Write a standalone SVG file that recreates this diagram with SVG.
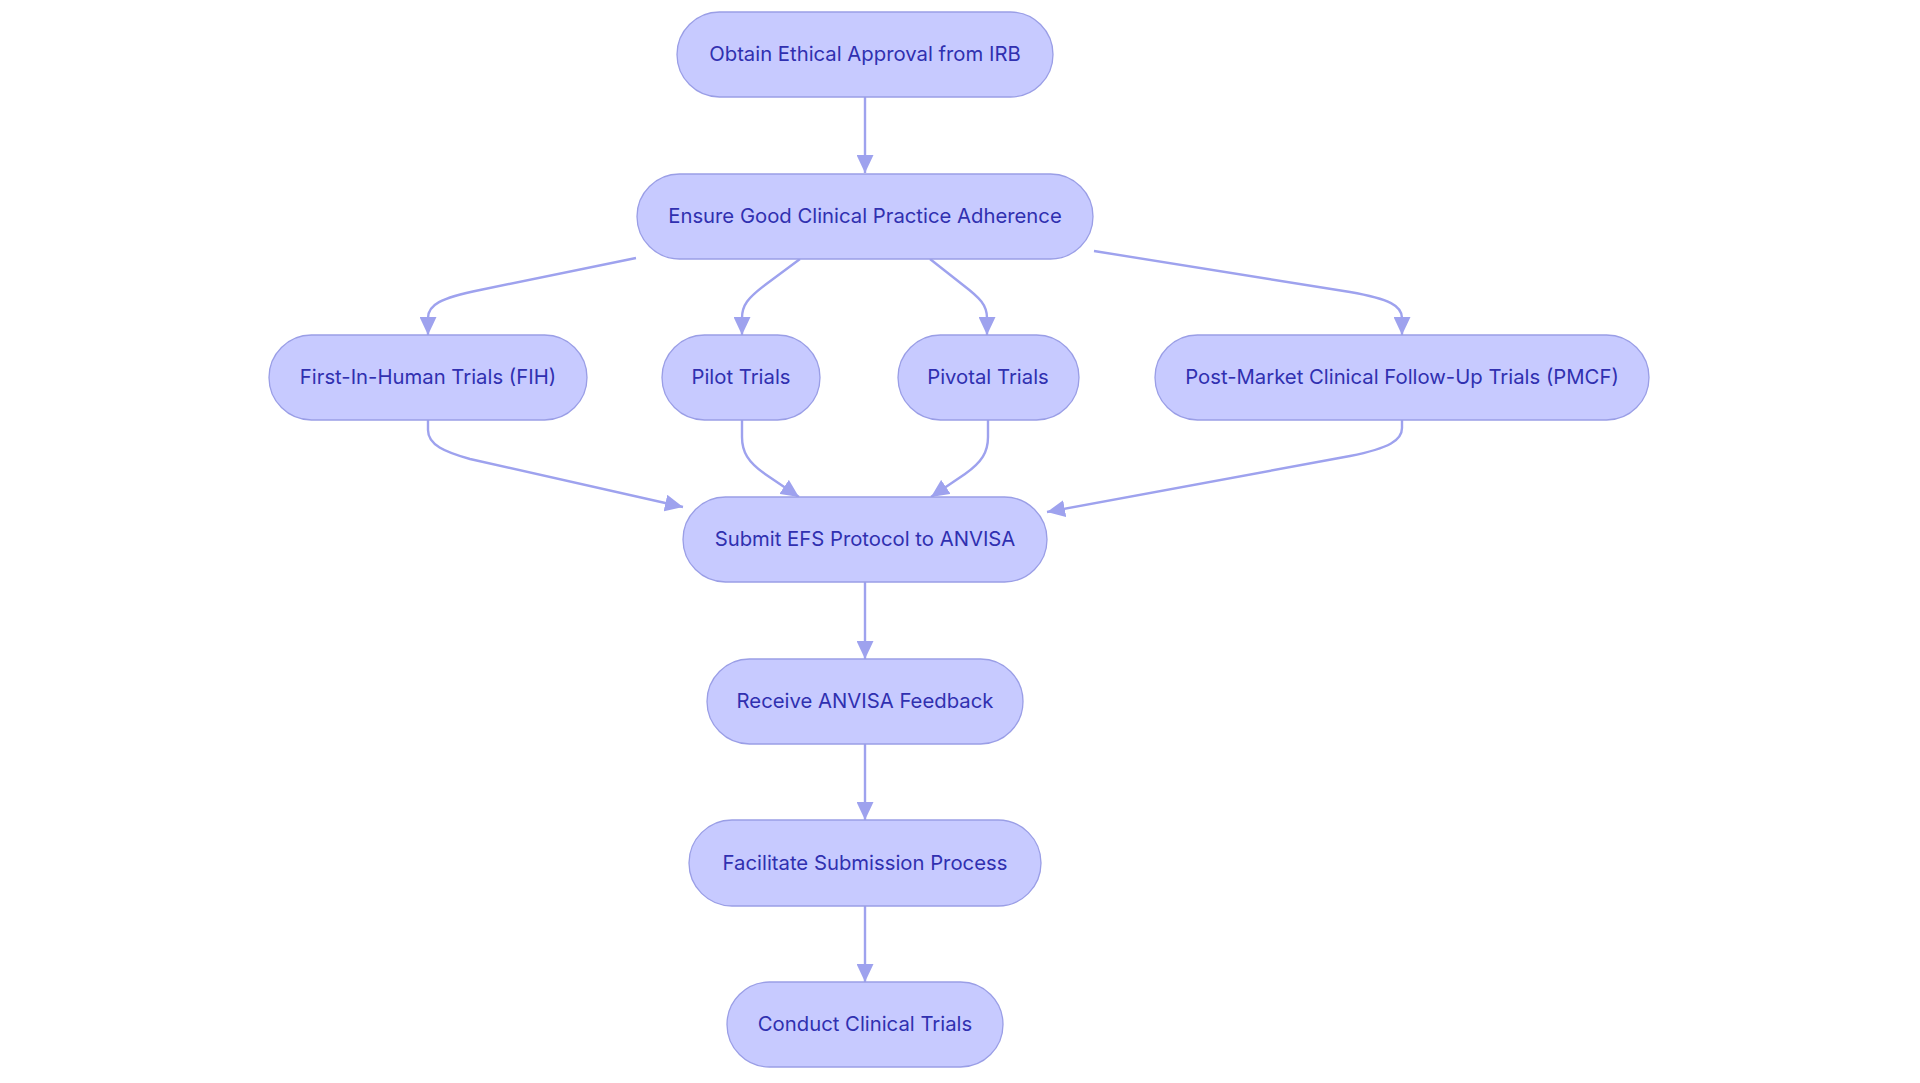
<svg xmlns="http://www.w3.org/2000/svg" width="1920" height="1083" viewBox="0 0 1920 1083">
<defs>
<style>
.node rect{fill:#C7CAFF;stroke:#9A9EE6;stroke-width:1.3}
.node text{font-family:Inter,"Noto Sans","Liberation Sans",sans-serif;font-size:20.3px;fill:#3030B0;text-anchor:middle}
.edge{fill:none;stroke:#9EA2EE;stroke-width:2.4;marker-end:url(#arrow)}
</style>
<marker id="arrow" markerUnits="userSpaceOnUse" markerWidth="18" markerHeight="17" refX="18" refY="8.5" orient="auto">
<path d="M0,0 L18,8.5 L0,17 z" fill="#9EA2EE"/>
</marker>
</defs>
<rect width="1920" height="1083" fill="#FFFFFF"/>
<g id="connectors">
<path class="edge" d="M865,97 L865,173"/>
<path class="edge" d="M636,258 L480,290 C440,298 428,305 428,318 L428,335"/>
<path class="edge" d="M800,259 L765,285 C748,298 742,305 742,318 L742,335"/>
<path class="edge" d="M930,259 L963,285 C980,298 987,305 987,318 L987,335"/>
<path class="edge" d="M1094,251 L1350,292 C1390,299 1402,306 1402,318 L1402,335"/>
<path class="edge" d="M428,420 L428,430 C428,445 445,452 470,459 L683,507"/>
<path class="edge" d="M742,420 L742,437 C742,452 748,462 765,474 L799,497"/>
<path class="edge" d="M988,420 L988,437 C988,452 982,462 965,474 L931,497"/>
<path class="edge" d="M1402,420 L1402,428 C1402,440 1390,448 1350,456 L1047,512"/>
<path class="edge" d="M865,582 L865,659"/>
<path class="edge" d="M865,744 L865,820"/>
<path class="edge" d="M865,906 L865,982"/>
</g>
<g id="n1" class="node"><rect x="677" y="12" width="376" height="85" rx="42.5"/><text x="865" y="61">Obtain Ethical Approval from IRB</text></g>
<g id="n2" class="node"><rect x="637" y="174" width="456" height="85" rx="42.5"/><text x="865" y="223">Ensure Good Clinical Practice Adherence</text></g>
<g id="n3" class="node"><rect x="269" y="335" width="318" height="85" rx="42.5"/><text x="428" y="384">First-In-Human Trials (FIH)</text></g>
<g id="n4" class="node"><rect x="662" y="335" width="158" height="85" rx="42.5"/><text x="741" y="384">Pilot Trials</text></g>
<g id="n5" class="node"><rect x="898" y="335" width="181" height="85" rx="42.5"/><text x="988" y="384">Pivotal Trials</text></g>
<g id="n6" class="node"><rect x="1155" y="335" width="494" height="85" rx="42.5"/><text x="1402" y="384">Post-Market Clinical Follow-Up Trials (PMCF)</text></g>
<g id="n7" class="node"><rect x="683" y="497" width="364" height="85" rx="42.5"/><text x="865" y="546">Submit EFS Protocol to ANVISA</text></g>
<g id="n8" class="node"><rect x="707" y="659" width="316" height="85" rx="42.5"/><text x="865" y="708">Receive ANVISA Feedback</text></g>
<g id="n9" class="node"><rect x="689" y="820" width="352" height="86" rx="43"/><text x="865" y="869.5">Facilitate Submission Process</text></g>
<g id="n10" class="node"><rect x="727" y="982" width="276" height="85" rx="42.5"/><text x="865" y="1031">Conduct Clinical Trials</text></g>
</svg>
